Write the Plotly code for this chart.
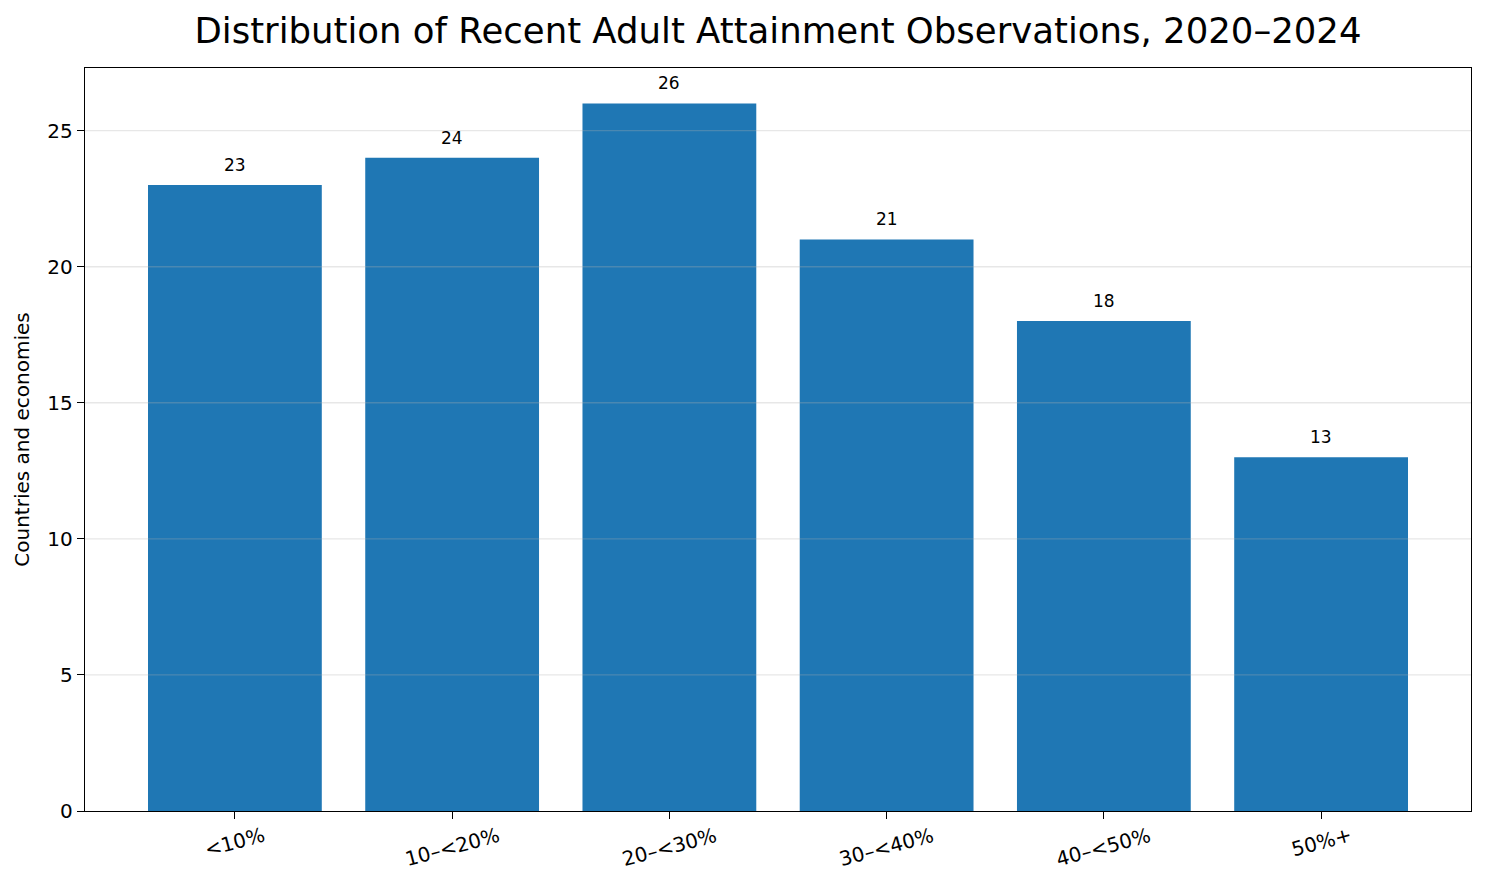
import plotly.graph_objects as go

# attainment bands and number of countries/economies in each
bands = ["<10%", "10–<20%", "20–<30%", "30–<40%", "40–<50%", "50%+"]
counts = [23, 24, 26, 21, 18, 13]
y_ticks = [0, 5, 10, 15, 20, 25]

FONT = "DejaVu Sans, Liberation Sans, sans-serif"

fig = go.Figure()
fig.add_trace(go.Bar(
    x=bands, y=counts,
    marker=dict(color="#1f77b4", line=dict(width=0)),
    width=0.8,
    hoverinfo="x+y",
))

# value labels above each bar
for b, c in zip(bands, counts):
    fig.add_annotation(
        x=b, y=c, text=str(c), showarrow=False,
        yanchor="bottom", yshift=8,
        font=dict(family=FONT, size=17, color="black"),
    )

# rotated category labels, centred under each tick (matplotlib style)
for b in bands:
    fig.add_annotation(
        x=b, xref="x", y=0, yref="paper", text=b, showarrow=False,
        textangle=-15, xanchor="center", yanchor="top", yshift=-9,
        font=dict(family=FONT, size=20, color="black"),
    )

# grid drawn over the bars, semi-transparent
for t in y_ticks[1:]:
    fig.add_shape(
        type="line", xref="paper", x0=0, x1=1, yref="y", y0=t, y1=t,
        line=dict(color="rgba(176,176,176,0.3)", width=1.4), layer="above",
    )

# page has ~7px body margin, so the figure is sized/offset to compensate
fig.update_layout(
    width=1478, height=878,
    paper_bgcolor="white", plot_bgcolor="white",
    margin=dict(l=77, r=15, t=60, b=75),
    showlegend=False,
    title=dict(
        text="Distribution of Recent Adult Attainment Observations, 2020–2024",
        xref="paper", x=0.5, xanchor="center", y=0.974, yanchor="middle",
        font=dict(family=FONT, size=35.5, color="black"),
    ),
    font=dict(family=FONT, size=20, color="black"),
)
fig.update_xaxes(
    range=[-0.69, 5.69],
    showline=True, linecolor="black", linewidth=1.4, mirror=True,
    ticks="outside", ticklen=7, tickwidth=1.4, tickcolor="black",
    showticklabels=False,
    showgrid=False,
)
fig.update_yaxes(
    range=[0, 27.3],
    tickvals=y_ticks,
    showline=True, linecolor="black", linewidth=1.4, mirror=True,
    ticks="outside", ticklen=7, tickwidth=1.4, tickcolor="black",
    tickfont=dict(size=20),
    showgrid=False,
    zeroline=False,
    title=dict(text="Countries and economies", font=dict(size=20), standoff=12),
)

fig.write_html("out.html")
